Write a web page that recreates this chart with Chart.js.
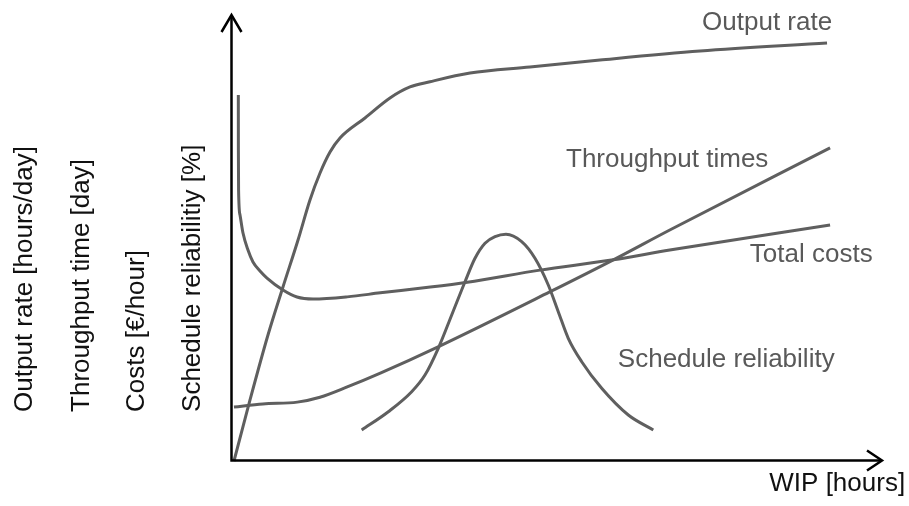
<!DOCTYPE html>
<html>
<head>
<meta charset="utf-8">
<title>WIP logistic curves</title>
<script src="https://cdn.jsdelivr.net/npm/chart.js@4/dist/chart.umd.min.js"></script>
<style>
  html, body { margin: 0; padding: 0; background: #fff; }
  #wrap { width: 909px; height: 506px; position: relative; }
</style>
</head>
<body>
<div id="wrap"><canvas id="chart"></canvas></div>
<script>
// values, WIP on 0..100, curves on 0..100
var outputRateX = [0.15, 2.62, 5.39, 7.70, 10.02, 11.86, 13.41, 14.95, 16.49, 20.34, 24.19, 27.27, 30.35, 36.52, 45.76, 56.55, 71.96, 91.53];
var outputRateY = [0, 13.68, 28.25, 39.01, 49.55, 58.52, 64.57, 69.28, 72.42, 76.91, 81.39, 83.86, 85.04, 86.99, 88.34, 89.91, 91.93, 93.72];

var totalCostsX = [0.82, 0.83, 0.86, 1.08, 1.54, 2.31, 3.08, 4.16, 5.24, 7.70, 9.86, 12.33, 17.6, 22.7, 30.4, 36.1, 47.3, 58.6, 67.3, 92.0];
var totalCostsY = [82.06, 69.73, 60.76, 55.16, 51.12, 47.31, 44.62, 42.60, 41.03, 38.34, 36.77, 36.32, 36.8, 37.7, 39.0, 40.1, 42.8, 45.1, 47.3, 52.9];

var throughputX = [0.15, 4.6, 9.9, 13.4, 17.6, 22.7, 31.6, 48.8, 58.6, 67.3, 92.0];
var throughputY = [12.1, 12.8, 13.2, 14.3, 16.6, 19.7, 25.6, 37.9, 45.1, 51.8, 70.2];

var reliabilityX = [19.83, 23.93, 27.53, 29.58, 31.63, 33.70, 35.75, 37.29, 38.83, 40.37, 42.06, 44.48, 46.53, 48.58, 50.12, 51.66, 53.73, 56.81, 60.91, 64.76];
var reliabilityY = [6.95, 11.05, 15.54, 19.28, 25.27, 32.74, 40.20, 45.45, 48.81, 50.29, 50.83, 49.17, 45.45, 39.46, 33.48, 27.51, 22.26, 16.30, 10.31, 6.95];

var seriesNames = ['Output rate', 'Throughput times', 'Total costs', 'Schedule reliability'];
var seriesLabelX = [82.3, 66.9, 89.1, 76.0];
var seriesLabelY = [98.2, 67.5, 46.2, 22.6];

var yAxisTitles = ['Output rate [hours/day]', 'Throughput time [day]', 'Costs [\u20AC/hour]', 'Schedule reliabilitiy [%]'];
var yAxisTitleX = [-32.0, -23.3, -14.8, -6.2];
var yAxisTitleBottom = 11.0;

var xAxisTitle = 'WIP [hours]';
var xAxisTitleX = 93.1;
var xAxisTitleY = -5.2;

var lineColor = '#5f5f5f';
var textGray = '#595959';
var fontFamily = '"Liberation Sans", Arial, sans-serif';

function pairs(xs, ys) {
  var out = [];
  for (var i = 0; i < xs.length; i++) out.push({ x: xs[i], y: ys[i] });
  return out;
}

function curve(name, xs, ys) {
  return {
    label: name,
    data: pairs(xs, ys),
    borderColor: lineColor,
    borderWidth: 3,
    pointRadius: 0,
    fill: false,
    cubicInterpolationMode: 'monotone',
    clip: false
  };
}

var arrowsAndText = {
  id: 'arrowsAndText',
  afterDatasetsDraw: function(chart) {
    var ctx = chart.ctx;
    var xs = chart.scales.x;
    var ys = chart.scales.y;
    var x0 = xs.getPixelForValue(0) - 1.5;
    var y0 = ys.getPixelForValue(0) - 0.5;
    var xEnd = xs.getPixelForValue(100);
    var yEnd = ys.getPixelForValue(100);

    ctx.save();
    ctx.strokeStyle = '#000';
    ctx.lineWidth = 2.5;
    ctx.lineCap = 'butt';
    ctx.lineJoin = 'miter';
    ctx.beginPath();
    ctx.moveTo(x0, y0);
    ctx.lineTo(x0, yEnd + 1);
    ctx.moveTo(x0 - 1.2, y0);
    ctx.lineTo(xEnd - 1, y0);
    ctx.stroke();

    ctx.beginPath();
    ctx.moveTo(x0 - 10, yEnd + 17);
    ctx.lineTo(x0, yEnd);
    ctx.lineTo(x0 + 10, yEnd + 17);
    ctx.moveTo(xEnd - 15, y0 - 10);
    ctx.lineTo(xEnd, y0);
    ctx.lineTo(xEnd - 15, y0 + 10);
    ctx.stroke();

    ctx.font = '26px ' + fontFamily;
    ctx.fillStyle = textGray;
    ctx.textAlign = 'center';
    ctx.textBaseline = 'middle';
    for (var i = 0; i < seriesNames.length; i++) {
      ctx.fillText(seriesNames[i], xs.getPixelForValue(seriesLabelX[i]), ys.getPixelForValue(seriesLabelY[i]));
    }

    ctx.fillStyle = '#111';
    ctx.fillText(xAxisTitle, xs.getPixelForValue(xAxisTitleX), ys.getPixelForValue(xAxisTitleY));

    var bottom = ys.getPixelForValue(yAxisTitleBottom);
    for (var j = 0; j < yAxisTitles.length; j++) {
      ctx.save();
      ctx.translate(xs.getPixelForValue(yAxisTitleX[j]), bottom);
      ctx.rotate(-Math.PI / 2);
      ctx.textAlign = 'left';
      ctx.fillText(yAxisTitles[j], 0, 0);
      ctx.restore();
    }
    ctx.restore();
  }
};

new Chart(document.getElementById('chart'), {
  type: 'line',
  data: {
    datasets: [
      curve(seriesNames[0], outputRateX, outputRateY),
      curve(seriesNames[1], throughputX, throughputY),
      curve(seriesNames[2], totalCostsX, totalCostsY),
      curve(seriesNames[3], reliabilityX, reliabilityY)
    ]
  },
  options: {
    responsive: true,
    maintainAspectRatio: false,
    animation: false,
    layout: { padding: { left: 233, right: 27, top: 15, bottom: 45 } },
    plugins: { legend: { display: false }, tooltip: { enabled: false } },
    scales: {
      x: { type: 'linear', min: 0, max: 100, display: false },
      y: { type: 'linear', min: 0, max: 100, display: false }
    }
  },
  plugins: [arrowsAndText]
});
</script>
</body>
</html>
